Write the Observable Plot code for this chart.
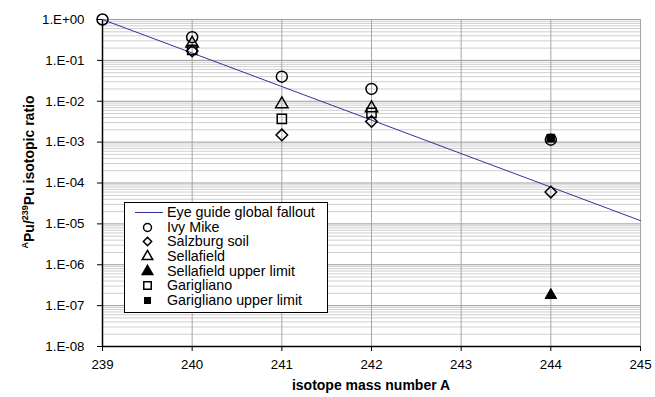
<!DOCTYPE html>
<html><head><meta charset="utf-8">
<script src="https://cdn.jsdelivr.net/npm/d3@7"></script>
<script src="https://cdn.jsdelivr.net/npm/@observablehq/plot@0.6"></script>
<style>
body{margin:0;background:#fff;}
#wrap{position:relative;width:655px;height:397px;font-family:"Liberation Sans",Arial,sans-serif;color:#000;overflow:hidden;}
#wrap svg.plot{position:absolute;left:0;top:0;}
.ytitle{position:absolute;left:29px;top:172px;transform:translate(-50%,-50%) rotate(-90deg);white-space:nowrap;font-weight:bold;font-size:14px;}
.ytitle sup{font-size:9px;vertical-align:6px;line-height:0;}
.xtitle{position:absolute;left:371px;top:385px;transform:translate(-50%,-50%);white-space:nowrap;font-weight:bold;font-size:14px;}
.legend{position:absolute;left:124px;top:202px;width:202px;height:107px;border:1px solid #000;background:#fff;font-size:14.3px;padding-top:2px;box-sizing:content-box;}
.legend .row{position:relative;height:14.7px;line-height:14.7px;white-space:nowrap;}
.legend .row svg{position:absolute;left:8px;top:0;}
.legend .row span{position:absolute;left:42px;top:0;}
</style></head><body><div id="wrap"></div>
<script>
// axis ticks and labels
const massTicks = [239, 240, 241, 242, 243, 244, 245];
const yTicks = [1, 1e-1, 1e-2, 1e-3, 1e-4, 1e-5, 1e-6, 1e-7, 1e-8];
const yTickLabels = ["1.E+00","1.E-01","1.E-02","1.E-03","1.E-04","1.E-05","1.E-06","1.E-07","1.E-08"];

// series
const eyeA = [239, 245];
const eyeR = [1.0, 1.2e-5];
const ivyA = [239, 240, 241, 242, 244];
const ivyR = [1.0, 0.37, 0.04, 0.02, 1.15e-3];
const salzA = [240, 241, 242, 244];
const salzR = [0.17, 1.5e-3, 3.2e-3, 6.0e-5];
const sellaA = [240, 241, 242];
const sellaR = [0.26, 8.5e-3, 6.8e-3];
const sellaUlA = [244];
const sellaUlR = [1.8e-7];
const gariA = [240, 241, 242];
const gariR = [0.18, 3.7e-3, 5.2e-3];
const gariUlA = [244];
const gariUlR = [1.25e-3];

const legendNames = ["Eye guide global fallout","Ivy Mike","Salzburg soil","Sellafield","Sellafield upper limit","Garigliano","Garigliano upper limit"];

const toRows = (a, r) => a.map((x, i) => ({a: x, r: r[i]}));
const allTicks = d3.scaleLog().domain([1e-8, 1]).ticks();
const minorTicks = allTicks.filter(v => !yTicks.some(t => Math.abs(v / t - 1) < 1e-9));
const labelOf = v => { const i = yTicks.findIndex(t => Math.abs(v / t - 1) < 1e-9); return i >= 0 ? yTickLabels[i] : ""; };

const lineColor = "#333399";
const plot = Plot.plot({
  width: 655, height: 397,
  marginLeft: 102, marginRight: 15, marginTop: 19, marginBottom: 51,
  x: {domain: [massTicks[0], massTicks[massTicks.length - 1]]},
  y: {type: "log", domain: [yTicks[yTicks.length - 1], yTicks[0]]},
  style: {fontFamily: '"Liberation Sans", Arial, sans-serif', fontSize: "13px", color: "#000", background: "#fff"},
  marks: [
    Plot.ruleY(minorTicks, {stroke: "#cfcfcf", strokeWidth: 1}),
    Plot.ruleY(yTicks, {stroke: "#9a9a9a", strokeWidth: 1}),
    Plot.ruleX(massTicks.slice(1), {stroke: "#a6a6a6", strokeWidth: 1}),
    Plot.axisY(yTicks, {tickFormat: labelOf, tickSize: 5, tickPadding: 13, label: null, fontSize: 13.3}),
    Plot.axisX(massTicks, {tickFormat: d => String(d), tickSize: 5, tickPadding: 8, label: null, fontSize: 13.3, letterSpacing: 1.5}),
    Plot.ruleX([massTicks[0]], {stroke: "#000", strokeWidth: 1.5}),
    Plot.ruleY([yTicks[yTicks.length - 1]], {stroke: "#000", strokeWidth: 1.5}),
    Plot.line(toRows(eyeA, eyeR), {x: "a", y: "r", stroke: lineColor, strokeWidth: 1}),
    Plot.dot(toRows(ivyA, ivyR), {x: "a", y: "r", symbol: "circle", r: 5.5, stroke: "#000", strokeWidth: 1.5, fill: "none"}),
    Plot.dot(toRows(salzA, salzR), {x: "a", y: "r", symbol: "diamond2", r: 5.2, stroke: "#000", strokeWidth: 1.5, fill: "none"}),
    Plot.dot(toRows(sellaA, sellaR), {x: "a", y: "r", symbol: "triangle", r: 4.6, stroke: "#000", strokeWidth: 1.5, fill: "none"}),
    Plot.dot(toRows(sellaUlA, sellaUlR), {x: "a", y: "r", symbol: "triangle", r: 4.3, stroke: "#000", strokeWidth: 1, fill: "#000"}),
    Plot.dot(toRows(gariA, gariR), {x: "a", y: "r", symbol: "square", r: 5.2, stroke: "#000", strokeWidth: 1.5, fill: "none"}),
    Plot.dot(toRows(gariUlA, gariUlR), {x: "a", y: "r", symbol: "square", r: 4.4, stroke: "#000", strokeWidth: 1, fill: "#000"})
  ]
});

const wrap = document.getElementById("wrap");
wrap.appendChild(plot);

const yt = document.createElement("div");
yt.className = "ytitle";
yt.innerHTML = "<sup>A</sup>Pu/<sup>239</sup>Pu isotopic ratio";
wrap.appendChild(yt);

const xt = document.createElement("div");
xt.className = "xtitle";
xt.textContent = "isotope mass number A";
wrap.appendChild(xt);

// legend
const legendSym = [
  {type: "line"},
  {type: d3.symbolCircle, size: 50, fill: "none"},
  {type: d3.symbolDiamond2, size: 44, fill: "none"},
  {type: d3.symbolTriangle, size: 48, fill: "none"},
  {type: d3.symbolTriangle, size: 48, fill: "#000"},
  {type: d3.symbolSquare, size: 56, fill: "none"},
  {type: d3.symbolSquare, size: 30, fill: "#000"}
];
const leg = document.createElement("div");
leg.className = "legend";
legendNames.forEach((name, i) => {
  const row = document.createElement("div");
  row.className = "row";
  const s = legendSym[i];
  let inner;
  if (s.type === "line") {
    inner = `<line x1="2" x2="30" y1="7.5" y2="7.5" stroke="${lineColor}" stroke-width="1"/>`;
  } else {
    const p = d3.symbol(s.type, s.size)();
    inner = `<path transform="translate(14.5,7.5)" d="${p}" fill="${s.fill}" stroke="#000" stroke-width="1.5"/>`;
  }
  row.innerHTML = `<svg width="32" height="15">${inner}</svg><span>${name}</span>`;
  leg.appendChild(row);
});
wrap.appendChild(leg);
</script>
</body></html>
